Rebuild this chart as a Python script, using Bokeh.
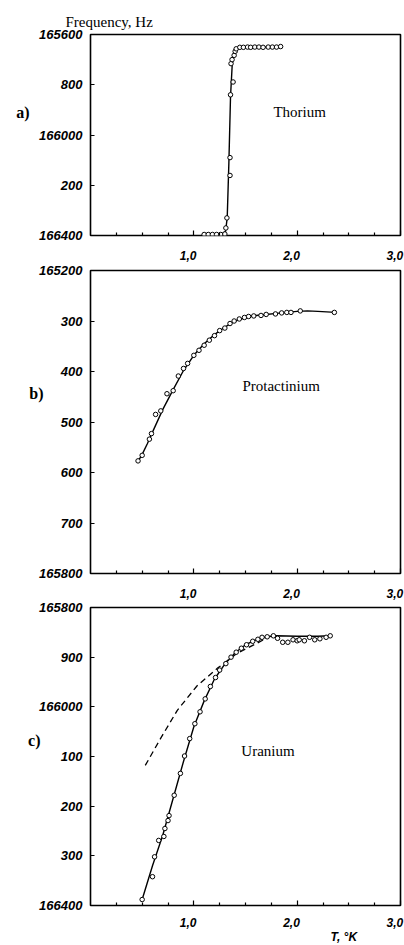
from bokeh.plotting import figure
from bokeh.layouts import column
from bokeh.models import Range1d, FixedTicker, Label, LinearAxis, Title
from bokeh.embed import file_html
from bokeh.resources import INLINE

# ---- Data (T in K, frequency in Hz) ----
x_ticks = [1.0, 2.0, 3.0]
x_tick_labels = ["1,0", "2,0", "3,0"]
x_minor = [0.25, 0.5, 0.75, 1.25, 1.5, 1.75, 2.25, 2.5, 2.75]

# a) Thorium
th_yticks = [165600, 165800, 166000, 166200, 166400]
th_ylabels = ["165600", "800", "166000", "200", "166400"]
th_T = [1.10, 1.14, 1.18, 1.22, 1.26, 1.30, 1.31, 1.32, 1.35, 1.35, 1.355, 1.36, 1.37, 1.38,
        1.39, 1.40, 1.41, 1.445, 1.48, 1.52, 1.55, 1.59, 1.63, 1.67, 1.72, 1.76, 1.80, 1.84]
th_f = [166396, 166396, 166396, 166396, 166396, 166394, 166370, 166330, 166161, 166090, 165840,
        165716, 165700, 165789, 165683, 165667, 165657, 165651, 165651, 165650, 165651, 165650,
        165650, 165651, 165650, 165650, 165650, 165648]
th_curve_T = [1.094, 1.278, 1.307, 1.323, 1.339, 1.355, 1.372, 1.387, 1.42, 1.50, 1.86]
th_curve_f = [166398, 166392, 166383, 166330, 166112, 165848, 165716, 165676, 165657, 165651, 165650]

# b) Protactinium
pa_yticks = [165200, 165300, 165400, 165500, 165600, 165700, 165800]
pa_ylabels = ["165200", "300", "400", "500", "600", "700", "165800"]
pa_T = [0.46, 0.50, 0.57, 0.59, 0.63, 0.68, 0.74, 0.80, 0.85, 0.90, 0.94, 1.00, 1.05, 1.10, 1.15,
        1.20, 1.25, 1.30, 1.35, 1.39, 1.44, 1.49, 1.53, 1.58, 1.65, 1.70, 1.79, 1.85, 1.90, 1.94,
        2.03, 2.36]
pa_f = [165577, 165566, 165534, 165523, 165485, 165478, 165444, 165438, 165409, 165394, 165384,
        165368, 165358, 165348, 165338, 165329, 165319, 165314, 165305, 165300, 165296, 165293,
        165291, 165290, 165289, 165287, 165286, 165284, 165283, 165283, 165280, 165283]
pa_curve_T = [0.46, 0.50, 0.55, 0.60, 0.70, 0.80, 0.90, 1.00, 1.10, 1.20, 1.30, 1.40, 1.50, 1.60,
              1.70, 1.80, 1.90, 2.00, 2.10, 2.20, 2.37]
pa_curve_f = [165578, 165564, 165543, 165520, 165475, 165436, 165398, 165368, 165345, 165327,
              165312, 165300, 165293, 165289, 165287, 165285, 165283, 165281, 165280, 165281, 165283]

# c) Uranium
u_yticks = [165800, 165900, 166000, 166100, 166200, 166300, 166400]
u_ylabels = ["165800", "900", "166000", "100", "200", "300", "166400"]
u_T = [0.50, 0.60, 0.62, 0.66, 0.71, 0.72, 0.75, 0.76, 0.81, 0.87, 0.91, 0.96, 1.01, 1.06, 1.11,
       1.16, 1.21, 1.25, 1.31, 1.36, 1.41, 1.46, 1.51, 1.57, 1.62, 1.66, 1.71, 1.77, 1.81, 1.86,
       1.91, 1.96, 2.00, 2.02, 2.07, 2.12, 2.17, 2.22, 2.28, 2.32]
u_f = [166388, 166342, 166302, 166269, 166261, 166245, 166229, 166219, 166178, 166134, 166099,
       166064, 166034, 166010, 165984, 165959, 165941, 165926, 165913, 165900, 165890, 165882,
       165875, 165868, 165864, 165860, 165859, 165857, 165862, 165870, 165870, 165865, 165867,
       165865, 165867, 165860, 165865, 165863, 165860, 165857]
u_curve_T = [0.50, 0.60, 0.70, 0.80, 0.90, 1.00, 1.10, 1.20, 1.30, 1.40, 1.50, 1.60, 1.70, 1.80,
             2.00, 2.20, 2.32]
u_curve_f = [166388, 166320, 166258, 166184, 166110, 166040, 165988, 165944, 165914, 165891,
             165875, 165865, 165859, 165857, 165858, 165858, 165857]
u_dash_T = [0.53, 0.68, 0.84, 1.03, 1.23, 1.42, 1.61, 1.72]
u_dash_f = [166118, 166063, 166007, 165958, 165922, 165892, 165872, 165860]

TICK_FONT = "Liberation Sans"
SERIF = "Liberation Serif"
LABEL_SHIFT = 0.055  # x tick labels in the original sit a little left of their ticks


def panel(height, top, bottom, y_lo, y_hi, yticks, ylabels, x_standoff=9):
    p = figure(width=404, height=height, output_backend="svg", toolbar_location=None,
               x_range=Range1d(0, 3.0), y_range=Range1d(y_hi, y_lo),
               min_border_left=90, min_border_right=4, min_border_top=top,
               min_border_bottom=bottom)
    p.grid.visible = False
    p.outline_line_color = "black"
    p.outline_line_width = 1.6
    p.outline_line_alpha = 1.0
    p.background_fill_color = "white"
    p.border_fill_color = "white"

    # tick marks (labels not drawn) on the main x axis
    xa = p.xaxis[0]
    xa.ticker = FixedTicker(ticks=x_ticks, minor_ticks=x_minor)
    xa.major_label_text_font_size = "0px"
    xa.major_label_text_color = None
    xa.major_label_standoff = 0
    xa.axis_line_color = None
    xa.major_tick_in = 5
    xa.major_tick_out = 0
    xa.minor_tick_in = 3
    xa.minor_tick_out = 0
    xa.major_tick_line_color = "black"
    xa.minor_tick_line_color = "black"
    xa.major_tick_line_width = 1.2
    xa.minor_tick_line_width = 1.2

    # tick labels of the x axis
    lab_pos = [t - LABEL_SHIFT for t in x_ticks]
    xl = LinearAxis(ticker=FixedTicker(ticks=lab_pos, minor_ticks=[]),
                    major_label_overrides={t: s for t, s in zip(lab_pos, x_tick_labels)},
                    axis_line_color=None, major_tick_line_color=None, minor_tick_line_color=None,
                    major_label_standoff=x_standoff, major_label_text_font=TICK_FONT,
                    major_label_text_font_style="bold italic", major_label_text_font_size="12px",
                    major_label_text_color="black")
    p.add_layout(xl, "below")

    ya = p.yaxis[0]
    ya.ticker = FixedTicker(ticks=yticks)
    ya.major_label_overrides = {t: s for t, s in zip(yticks, ylabels)}
    ya.axis_line_color = None
    ya.major_tick_in = 4
    ya.major_tick_out = 0
    ya.minor_tick_line_color = None
    ya.major_tick_line_color = "black"
    ya.major_tick_line_width = 1.2
    ya.major_label_standoff = 8
    ya.major_label_text_font = TICK_FONT
    ya.major_label_text_font_style = "bold italic"
    ya.major_label_text_font_size = "13px"
    ya.major_label_text_color = "black"
    return p


def panel_letter(p, f_pos, letter, standoff):
    ax = LinearAxis(ticker=FixedTicker(ticks=[f_pos], minor_ticks=[]),
                    major_label_overrides={f_pos: letter},
                    axis_line_color=None, major_tick_line_color=None, minor_tick_line_color=None,
                    major_label_standoff=standoff, major_label_text_font=SERIF,
                    major_label_text_font_style="bold", major_label_text_font_size="16px",
                    major_label_text_color="black")
    p.add_layout(ax, "left")


def points(p, xs, ys):
    p.scatter(xs, ys, marker="circle", size=4.5, fill_color="white", line_color="black",
              line_width=1.0)


def text(p, x, y, s):
    p.add_layout(Label(x=x, y=y, text=s, text_font=SERIF, text_font_size="15px",
                       text_color="black", text_align="left", text_baseline="middle"))


# a) Thorium
pa_fig = panel(262, 34, 26, 165600, 166400, th_yticks, th_ylabels)
pa_fig.line(th_curve_T, th_curve_f, line_color="black", line_width=1.4)
points(pa_fig, th_T, th_f)
text(pa_fig, 1.77, 165909, "Thorium")
panel_letter(pa_fig, 165909, "a)", 1)
pa_fig.add_layout(Title(text="Frequency, Hz", align="left", offset=-25, standoff=10,
                        text_font=SERIF, text_font_size="15px", text_font_style="normal",
                        text_color="black", vertical_align="bottom"), "above")

# b) Protactinium
pb_fig = panel(338, 8, 23, 165200, 165800, pa_yticks, pa_ylabels)
pb_fig.line(pa_curve_T, pa_curve_f, line_color="black", line_width=1.4)
points(pb_fig, pa_T, pa_f)
text(pb_fig, 1.47, 165429, "Protactinium")
panel_letter(pb_fig, 165443, "b)", -13)

# c) Uranium
pc_fig = panel(345, 7, 32, 165800, 166400, u_yticks, u_ylabels, x_standoff=6)
pc_fig.line(u_dash_T, u_dash_f, line_color="black", line_width=1.3, line_dash="6 4")
pc_fig.line(u_curve_T, u_curve_f, line_color="black", line_width=1.4)
points(pc_fig, u_T, u_f)
text(pc_fig, 1.46, 166088, "Uranium")
panel_letter(pc_fig, 166067, "c)", -10)
pc_fig.add_layout(Title(text="T, °K", align="left", offset=240, standoff=0,
                        text_font=TICK_FONT, text_font_size="12px", text_font_style="bold italic",
                        text_color="black", vertical_align="top"), "below")

layout = column(pa_fig, pb_fig, pc_fig, spacing=0)
open("out.html", "w").write(file_html(layout, INLINE))
